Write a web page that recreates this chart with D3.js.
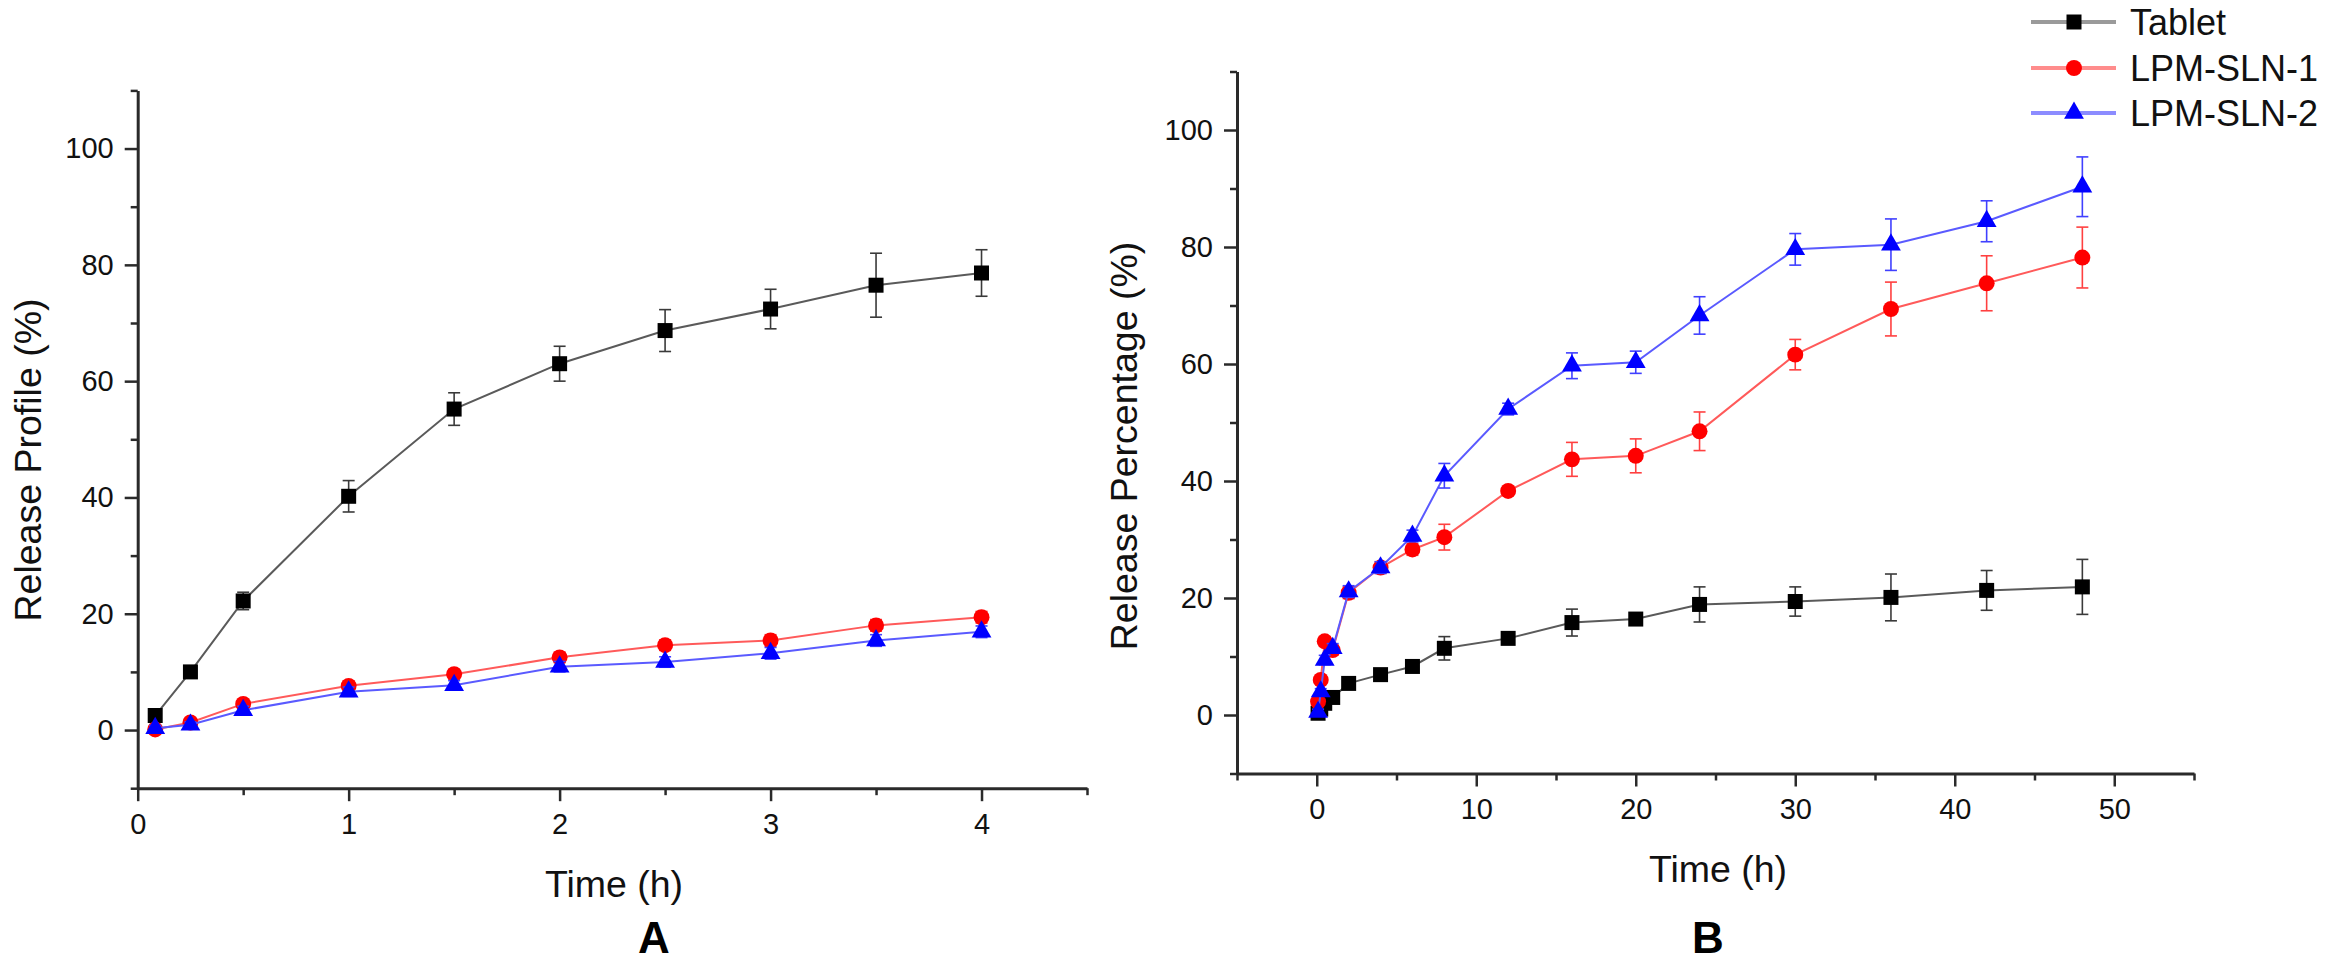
<!DOCTYPE html>
<html>
<head>
<meta charset="utf-8">
<script src="https://cdn.jsdelivr.net/npm/d3@7"></script>
<style>
  body { margin: 0; background: #fff; }
  svg { display: block; font-family: Arial, "Liberation Sans", sans-serif; }
  .axis path, .axis line { stroke: #2a2a2a; }
  .axis path { stroke-width: 3; }
  .axis line { stroke-width: 2.5; }
  .axis text { font-size: 29px; fill: #111; }
  .title { font-size: 37.5px; fill: #111; }
  .panel { font-size: 44px; font-weight: bold; fill: #000; }
</style>
</head>
<body>
<div class="chart"></div>
<script>
"use strict"

// panel A: first 4 h
const timeA = [0.083, 0.25, 0.5, 1, 1.5, 2, 2.5, 3, 3.5, 4];
const tabletA = [2.5, 10.0, 22.2, 40.2, 55.2, 63.0, 68.7, 72.4, 76.5, 78.6];
const tabletAErr = [0.5, 0.8, 1.5, 2.7, 2.8, 3.0, 3.6, 3.4, 5.5, 4.0];
const sln1A = [0.1, 1.3, 4.5, 7.6, 9.6, 12.5, 14.6, 15.4, 18.0, 19.4];
const sln1AErr = [0.5, 0.5, 0.7, 0.8, 0.8, 0.9, 0.9, 1.0, 1.0, 1.0];
const sln2A = [0.3, 0.9, 3.4, 6.6, 7.7, 10.9, 11.7, 13.2, 15.4, 16.9];
const sln2AErr = [0.5, 0.5, 0.7, 0.8, 0.8, 0.9, 0.9, 1.0, 1.0, 1.0];

// panel B: 48 h
const timeB = [0.083, 0.25, 0.5, 1, 2, 4, 6, 8, 12, 16, 20, 24, 30, 36, 42, 48];
const tabletB = [0.3, 1.0, 2.0, 3.0, 5.4, 6.9, 8.3, 11.4, 13.1, 15.8, 16.4, 18.9, 19.4, 20.1, 21.3, 21.9];
const tabletBErr = [0.3, 0.3, 0.5, 0.5, 0.8, 0.8, 1.0, 2.0, 1.0, 2.3, 1.0, 3.0, 2.5, 4.0, 3.4, 4.7];
const sln1B = [2.3, 6.0, 12.6, 11.1, 20.9, 25.2, 28.3, 30.4, 38.3, 43.7, 44.3, 48.5, 61.6, 69.4, 73.8, 78.2];
const sln1BErr = [0.5, 0.5, 0.8, 0.8, 1.0, 1.0, 1.0, 2.2, 0.6, 2.9, 2.9, 3.3, 2.6, 4.6, 4.7, 5.2];
const sln2B = [0.5, 4.0, 9.4, 11.4, 21.1, 25.2, 30.6, 40.9, 52.3, 59.7, 60.3, 68.3, 79.6, 80.4, 84.4, 90.3];
const sln2BErr = [0.5, 0.5, 0.8, 0.8, 1.0, 1.0, 1.0, 2.1, 1.0, 2.2, 1.9, 3.2, 2.7, 4.4, 3.5, 5.1];

const seriesNames = ["Tablet", "LPM-SLN-1", "LPM-SLN-2"];
const yTickLabels = [0, 20, 40, 60, 80, 100];
const xTickLabelsA = [0, 1, 2, 3, 4];
const xTickLabelsB = [0, 10, 20, 30, 40, 50];

const width = 2333,
    height = 974;

const svg = d3.select("div.chart").append("svg")
    .attr("width", width)
    .attr("height", height);

// look of each series
const styles = [
    { line: "#5a5a5a", mark: "#000000", err: "#3a3a3a", legend: "#9a9a9a", shape: d3.symbolSquare, size: 225 },
    { line: "#ff5a5a", mark: "#ff0000", err: "#ff4040", legend: "#ff8c8c", shape: d3.symbolCircle, size: 200 },
    { line: "#5a5aff", mark: "#0000ff", err: "#4040ff", legend: "#8c8cff", shape: d3.symbolTriangle, size: 170 }
];

function drawPanel(opt) {
    const scaleX = d3.scaleLinear().domain(opt.xDomain).range([opt.left, opt.right]);
    const scaleY = d3.scaleLinear().domain([-10, 110]).range([opt.bottom, opt.top]);

    const xAll = d3.range(opt.xDomain[0], opt.xDomain[1] + opt.xStep / 2, opt.xStep);
    const yAll = d3.range(-10, 111, 10);
    const isLabel = d => opt.xLabels.some(v => Math.abs(v - d) < 1e-9);

    const xAxis = d3.axisBottom(scaleX)
        .tickValues(xAll)
        .tickSize(13)
        .tickSizeOuter(0)
        .tickPadding(12)
        .tickFormat(d => isLabel(d) ? d3.format("d")(d) : "");
    const yAxis = d3.axisLeft(scaleY)
        .tickValues(yAll)
        .tickSize(13)
        .tickSizeOuter(0)
        .tickPadding(11)
        .tickFormat(d => yTickLabels.includes(d) ? d : "");

    const gx = svg.append("g")
        .attr("class", "axis x-axis")
        .attr("transform", "translate(0," + opt.bottom + ")")
        .call(xAxis);
    gx.selectAll("g.tick")
        .filter(d => !isLabel(d))
        .select("line").attr("y2", 7);

    const gy = svg.append("g")
        .attr("class", "axis y-axis")
        .attr("transform", "translate(" + opt.left + ",0)")
        .call(yAxis);
    gy.selectAll("g.tick")
        .filter(d => !yTickLabels.includes(d))
        .select("line").attr("x2", -7);

    // series: line, error bars, markers
    opt.series.forEach((s, i) => {
        const st = styles[i];
        const pts = opt.time.map((t, k) => ({ x: t, y: s.values[k], e: s.err[k] }));
        const g = svg.append("g").attr("class", "series");

        g.append("path")
            .datum(pts)
            .attr("fill", "none")
            .attr("stroke", st.line)
            .attr("stroke-width", 2)
            .attr("d", d3.line().x(d => scaleX(d.x)).y(d => scaleY(d.y)));

        const bars = g.selectAll("g.err").data(pts).join("g").attr("class", "err")
            .attr("stroke", st.err)
            .attr("stroke-width", 1.6);
        bars.append("line")
            .attr("x1", d => scaleX(d.x)).attr("x2", d => scaleX(d.x))
            .attr("y1", d => scaleY(d.y - d.e)).attr("y2", d => scaleY(d.y + d.e));
        bars.append("line")
            .attr("x1", d => scaleX(d.x) - 6).attr("x2", d => scaleX(d.x) + 6)
            .attr("y1", d => scaleY(d.y + d.e)).attr("y2", d => scaleY(d.y + d.e));
        bars.append("line")
            .attr("x1", d => scaleX(d.x) - 6).attr("x2", d => scaleX(d.x) + 6)
            .attr("y1", d => scaleY(d.y - d.e)).attr("y2", d => scaleY(d.y - d.e));

        g.selectAll("path.mark").data(pts).join("path")
            .attr("class", "mark")
            .attr("fill", st.mark)
            .attr("transform", d => "translate(" + scaleX(d.x) + "," + scaleY(d.y) + ")")
            .attr("d", d3.symbol().type(st.shape).size(st.size)());
    });

    // axis titles and panel letter
    svg.append("text")
        .attr("class", "title")
        .attr("text-anchor", "middle")
        .attr("transform", "translate(" + opt.yTitleX + "," + opt.yTitleY + ") rotate(-90)")
        .text(opt.yTitle);
    svg.append("text")
        .attr("class", "title")
        .attr("text-anchor", "middle")
        .attr("x", opt.xTitleX)
        .attr("y", opt.xTitleY)
        .text("Time (h)");
    svg.append("text")
        .attr("class", "panel")
        .attr("text-anchor", "middle")
        .attr("x", opt.panelX)
        .attr("y", 953)
        .text(opt.panel);
}

drawPanel({
    xDomain: [0, 4.5], xStep: 0.5, xLabels: xTickLabelsA,
    left: 137.7, right: 1087, top: 90.4, bottom: 788.2,
    time: timeA,
    series: [
        { values: tabletA, err: tabletAErr },
        { values: sln1A, err: sln1AErr },
        { values: sln2A, err: sln2AErr }
    ],
    yTitle: "Release Profile (%)", yTitleX: 41, yTitleY: 460,
    xTitleX: 614, xTitleY: 897,
    panel: "A", panelX: 654
});

drawPanel({
    xDomain: [-5, 55], xStep: 5, xLabels: xTickLabelsB,
    left: 1237, right: 2194, top: 71.5, bottom: 773.5,
    time: timeB,
    series: [
        { values: tabletB, err: tabletBErr },
        { values: sln1B, err: sln1BErr },
        { values: sln2B, err: sln2BErr }
    ],
    yTitle: "Release Percentage (%)", yTitleX: 1137, yTitleY: 446,
    xTitleX: 1718, xTitleY: 882,
    panel: "B", panelX: 1708
});

// legend, top right
const legend = svg.append("g").attr("class", "legend");
const legendRows = [22, 68, 113];
seriesNames.forEach((name, i) => {
    const st = styles[i];
    const yy = legendRows[i];
    legend.append("line")
        .attr("x1", 2031).attr("x2", 2116)
        .attr("y1", yy).attr("y2", yy)
        .attr("stroke", st.legend)
        .attr("stroke-width", 4);
    legend.append("path")
        .attr("fill", st.mark)
        .attr("transform", "translate(2074," + yy + ")")
        .attr("d", d3.symbol().type(st.shape).size(st.size)());
    legend.append("text")
        .attr("x", 2130)
        .attr("y", yy + 12.5)
        .attr("font-size", 36)
        .attr("fill", "#111")
        .text(name);
});
</script>
</body>
</html>
